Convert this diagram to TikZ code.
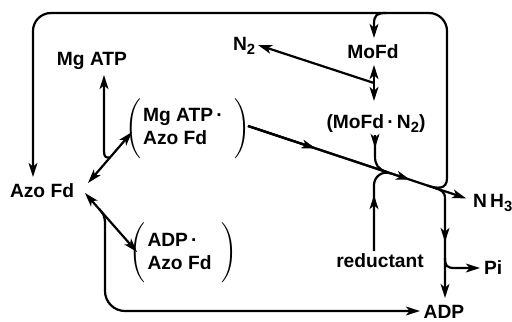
\documentclass[tikz,border=0pt]{standalone}
\usepackage{fontspec}
\setmainfont{Liberation Sans}
\usetikzlibrary{arrows.meta,calc}
\newcommand\subsc[1]{\raisebox{-0.45ex}{\fontsize{7.4}{8}\selectfont #1}}
\begin{document}
\begin{tikzpicture}[x=0.5pt,y=-0.5pt, line width=1.1pt,
  lbl/.style={font=\fontsize{9.6}{11.5}\selectfont\bfseries\boldmath, inner sep=0pt},
  arr/.style={-{Stealth[length=7pt,width=4.4pt,inset=1.8pt]}},
  darr/.style={{Stealth[length=7pt,width=4.4pt,inset=1.8pt]}-{Stealth[length=7pt,width=4.4pt,inset=1.8pt]}}]
\useasboundingbox (0,0) rectangle (512,321);
% labels
\node[lbl,anchor=base] (mgatp) at (92,65) {Mg ATP};
\node[lbl,anchor=base west] (n2) at (232,50) {N\subsc{2}};
\node[lbl,anchor=base] (mofd) at (373,58) {MoFd};
\node[lbl,anchor=base] (mofdn) at (376,128) {(MoFd\,·\,N\subsc{2})};
\node[lbl] (c1) at (188,128.5) {$\Bigg(\begin{tabular}{@{\hspace{1pt}}l@{\hspace{6pt}}}Mg ATP\,·\\Azo Fd\end{tabular}\Bigg)$};
\node[lbl] (c2) at (183.5,253) {$\Bigg(\begin{tabular}{@{\hspace{1pt}}l@{\hspace{5pt}}}ADP\,·\\Azo Fd\end{tabular}\Bigg)$};
\node[lbl,anchor=base] (azo) at (42,197) {Azo Fd};
\node[lbl,anchor=base west] (nh3) at (472,207) {N\,H\subsc{3}};
\node[lbl,anchor=base] (red) at (380,267) {reductant};
\node[lbl,anchor=base west] (pi) at (483,274) {Pi};
\node[lbl,anchor=base] (adp) at (444,318) {ADP};
% main diagonal
\coordinate (d0) at (248,126);
\coordinate (J2) at (441,190);
\draw (d0) -- (J2);
\draw[arr] (d0) -- ($(d0)!0.35!(J2)$);
\draw[arr] (d0) -- ($(d0)!0.84!(J2)$);
\coordinate (nh3tip) at ($(d0)!1.13!(J2)$);
\draw[arr] (J2) -- (nh3tip);
% MoFd.N2 down into diagonal
\coordinate (m1) at ($(d0)!0.72!(J2)$);
\coordinate (p0) at (375,135);
\draw (p0) -- (375,156) .. controls (375,165) and ($(m1)+(-9,-3)$) .. (m1);
\draw[arr] (p0) -- (375,148);
% reductant into diagonal
\coordinate (m2) at ($(d0)!0.74!(J2)$);
\coordinate (r0) at (374,251);
\draw (r0) -- (374,185) .. controls (374,177) and ($(m2)+(-9,-3)$) .. (m2);
\draw[arr] (r0) -- (374,195);
% big loop
\coordinate (m3) at ($(d0)!0.93!(J2)$);
\coordinate (lt) at (33,177);
\draw[arr] (m3) .. controls ($(m3)+(9.5,3.15)$) and (447,190) .. (447,178) [rounded corners=9] -- (447,13) -- (33,13) -- (lt);
% branch to MoFd
\coordinate (b0) at (386,13);
\coordinate (mt) at (374,38);
\draw[arr] (b0) .. controls (377,13) and (374,15) .. (374,24) -- (mt);
% MoFd <-> MoFd.N2
\coordinate (v1) at (374,65);
\coordinate (v2) at (374,101);
\draw[darr] (v1) -- (v2);
\coordinate (q0) at (374,83);
\coordinate (n2tip) at (258,45);
\draw[arr] (q0) -- (n2tip);
% Azo <-> complex 1
\coordinate (a1) at (88,183);
\coordinate (c1l) at (132,132);
\draw[darr] (a1) -- (c1l);
\coordinate (k1) at ($(a1)!0.5!(c1l)$);
\coordinate (mgtip) at (104,75);
\draw[arr] (k1) .. controls (106,158) and (104,157) .. (104,151) -- (mgtip);
% Azo <-> complex 2
\coordinate (a2) at (85,193);
\coordinate (c2l) at (137,252);
\draw[darr] (a2) -- (c2l);
\coordinate (k2) at ($(a2)!0.27!(c2l)$);
\coordinate (adptip) at (420,311);
\draw[arr] (k2) .. controls (103,213) and (105,216) .. (105,224) [rounded corners=10] -- (105,311) -- (adptip);
% down from junction
\coordinate (m4) at ($(d0)!0.96!(J2)$);
\coordinate (adptop) at (445,298);
\draw[arr] (m4) .. controls ($(m4)+(8,2.6)$) and (445,191) .. (445,199) -- (adptop);
\draw[arr] (445,199) -- (445,242);
\coordinate (pitip) at (480,268);
\draw[arr] (445,258) .. controls (445,266) and (447,268) .. (455,268) -- (pitip);
\end{tikzpicture}
\end{document}
